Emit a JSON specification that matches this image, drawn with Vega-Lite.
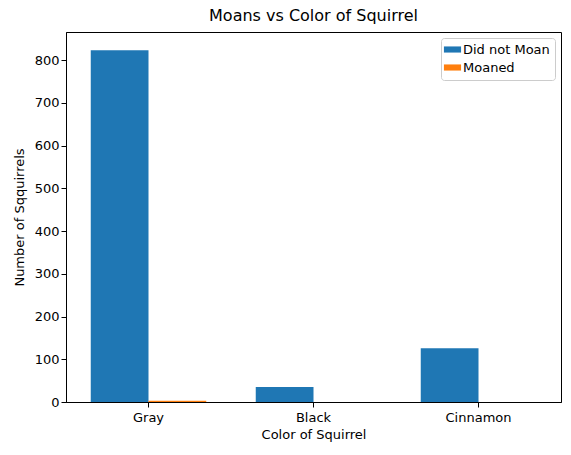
{
  "$schema": "https://vega.github.io/schema/vega-lite/v6.json",
  "width": 495,
  "height": 370,
  "autosize": {"type": "none"},
  "padding": {"left": 66, "top": 32, "right": 10, "bottom": 53},
  "config": {
    "font": "DejaVu Sans",
    "view": {"stroke": "black", "strokeWidth": 1},
    "axis": {"labelFontSize": 13, "titleFontSize": 13, "labelColor": "black", "titleColor": "black", "titleFontWeight": "normal", "domainColor": "black", "tickColor": "black", "tickSize": 5, "grid": false}
  },
  "title": {"text": "Moans vs Color of Squirrel", "fontSize": 16, "fontWeight": "normal", "color": "black", "offset": 8},
  "data": {
    "values": [
      {"color": "Gray", "group": "Did not Moan", "count": 823},
      {"color": "Gray", "group": "Moaned", "count": 3},
      {"color": "Black", "group": "Did not Moan", "count": 35},
      {"color": "Black", "group": "Moaned", "count": 0},
      {"color": "Cinnamon", "group": "Did not Moan", "count": 126},
      {"color": "Cinnamon", "group": "Moaned", "count": 0}
    ]
  },
  "mark": {"type": "bar"},
  "encoding": {
    "x": {
      "field": "color", "type": "nominal", "sort": ["Gray", "Black", "Cinnamon"],
      "title": "Color of Squirrel",
      "scale": {"paddingInner": 0.3, "paddingOuter": 0.15},
      "axis": {"labelAngle": 0, "labelPadding": 4, "titlePadding": 4}
    },
    "xOffset": {"field": "group", "type": "nominal"},
    "y": {
      "field": "count", "type": "quantitative", "title": "Number of Sqquirrels",
      "scale": {"domain": [0, 866], "nice": false},
      "axis": {"values": [0, 100, 200, 300, 400, 500, 600, 700, 800], "titlePadding": 8}
    },
    "color": {
      "field": "group", "type": "nominal",
      "scale": {"domain": ["Did not Moan", "Moaned"], "range": ["#1f77b4", "#ff7f0e"]},
      "legend": {"title": null, "orient": "top-right", "symbolType": "M-1.4,-0.5H1.4V0.5H-1.4Z", "symbolSize": 150, "symbolStrokeWidth": 0, "labelFontSize": 13, "labelColor": "black", "strokeColor": "#cccccc", "fillColor": "white", "padding": 5, "cornerRadius": 3, "offset": 6, "rowPadding": 4}
    }
  }
}
